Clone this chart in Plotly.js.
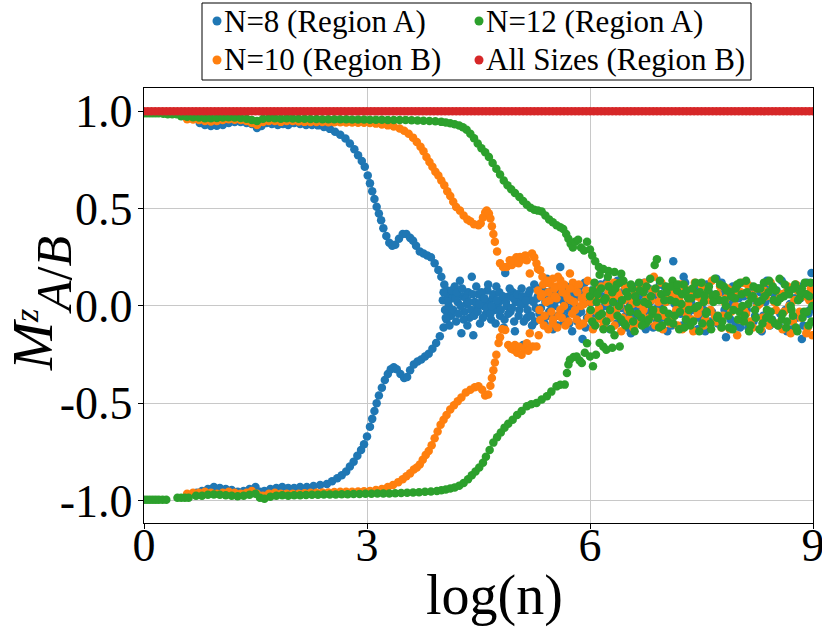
<!DOCTYPE html>
<html>
<head>
<meta charset="utf-8">
<script src="https://cdn.plot.ly/plotly-3.0.1.min.js"></script>
<style>html,body{margin:0;padding:0;background:#fff;}#chart{width:822px;height:629px;}</style>
</head>
<body>
<div id="chart"></div>
<script>
// ---- data (x = log(n), y = M^z_{A/B}) ----
const seriesNames = ["N=8 (Region A)", "N=10 (Region B)", "N=12 (Region A)", "All Sizes (Region B)"];
const xTickVals = [0, 3, 6, 9];
const xTickText = ["0", "3", "6", "9"];
const yTickVals = [-1, -0.5, 0, 0.5, 1];
const yTickText = ["-1.0", "-0.5", "0.0", "0.5", "1.0"];

const blueUpper = [[0.75,0.94],[0.82,0.93],[0.9,0.925],[0.98,0.926],[1.06,0.93],[1.14,0.94],[1.22,0.945],[1.3,0.945],[1.38,0.94],[1.45,0.935],[1.52,0.915],[1.58,0.925],[1.65,0.94],[1.72,0.935],[1.8,0.93],[1.87,0.935],[1.94,0.93],[2.02,0.94],[2.1,0.935],[2.18,0.93],[2.26,0.93],[2.34,0.928],[2.42,0.92],[2.5,0.91],[2.57,0.895],[2.64,0.88],[2.71,0.86],[2.77,0.835],[2.83,0.805],[2.88,0.775],[2.93,0.745],[2.97,0.715],[3.01,0.67],[3.04,0.63],[3.07,0.59],[3.1,0.55],[3.13,0.51],[3.16,0.475],[3.19,0.44],[3.22,0.4],[3.26,0.36],[3.3,0.325],[3.34,0.31],[3.38,0.315],[3.43,0.345],[3.48,0.37],[3.53,0.37],[3.58,0.35],[3.62,0.335],[3.66,0.31],[3.71,0.28],[3.76,0.27],[3.81,0.26],[3.86,0.25],[3.91,0.22],[3.96,0.185],[4.0,0.15],[4.04,0.11],[4.08,0.08],[4.12,0.05]];
const blueLower = [[0.71,-0.96],[0.78,-0.95],[0.86,-0.94],[0.94,-0.93],[1.02,-0.935],[1.1,-0.94],[1.18,-0.945],[1.26,-0.955],[1.34,-0.95],[1.42,-0.94],[1.5,-0.93],[1.56,-0.955],[1.62,-0.95],[1.7,-0.94],[1.78,-0.935],[1.86,-0.93],[1.94,-0.935],[2.02,-0.935],[2.1,-0.93],[2.19,-0.93],[2.28,-0.925],[2.37,-0.92],[2.46,-0.915],[2.53,-0.9],[2.6,-0.885],[2.66,-0.87],[2.72,-0.85],[2.77,-0.825],[2.82,-0.8],[2.87,-0.77],[2.92,-0.74],[2.96,-0.71],[3.0,-0.67],[3.04,-0.62],[3.07,-0.58],[3.1,-0.54],[3.13,-0.5],[3.16,-0.46],[3.2,-0.42],[3.24,-0.38],[3.28,-0.35],[3.32,-0.325],[3.36,-0.315],[3.4,-0.325],[3.45,-0.35],[3.5,-0.37],[3.54,-0.365],[3.58,-0.33],[3.63,-0.3],[3.68,-0.285],[3.73,-0.275],[3.78,-0.26],[3.83,-0.245],[3.88,-0.22],[3.93,-0.19],[3.98,-0.155],[4.03,-0.11],[4.07,-0.07],[4.12,-0.035]];
const blueCloud = [[4.02,0.03],[4.05,-0.02],[4.08,0.06],[4.1,0.0],[4.13,-0.05],[4.15,0.04],[4.18,0.1],[4.2,-0.08],[4.22,0.02],[4.25,0.13],[4.27,-0.14],[4.29,0.05],[4.31,-0.03],[4.34,0.01],[4.36,0.07],[4.38,-0.06],[4.41,0.15],[4.43,-0.15],[4.45,0.02],[4.48,-0.01],[4.5,0.06],[4.52,-0.09],[4.55,0.03],[4.57,0.0],[4.6,-0.04],[4.62,0.08],[4.64,0.02],[4.67,-0.07],[4.69,0.04],[4.72,-0.02],[4.74,0.1],[4.76,0.01],[4.79,-0.05],[4.81,0.03],[4.84,-0.11],[4.86,0.17],[4.88,0.0],[4.91,0.05],[4.93,-0.03],[4.96,0.07],[4.98,-0.08],[5.0,0.02],[5.03,0.04],[5.05,-0.02],[5.08,0.09],[5.1,-0.2],[5.12,0.01],[5.15,-0.06],[5.17,0.06],[5.2,0.03],[5.22,-0.1],[5.25,0.11],[5.27,-0.01],[5.3,0.05],[5.32,-0.04],[5.35,0.08],[5.37,-0.07],[5.4,0.02],[5.42,0.14],[5.45,-0.03],[5.47,0.04],[5.5,-0.12],[5.52,0.0],[5.55,0.07],[5.57,-0.05],[5.6,0.2],[5.63,0.03],[5.65,-0.08],[5.68,0.1],[5.7,-0.02],[5.73,0.05],[5.76,-0.13],[5.78,0.01],[5.81,0.09],[5.84,-0.04],[5.87,0.06],[5.9,-0.17],[5.93,0.12],[5.96,-0.06],[5.99,0.02],[6.02,0.08],[6.05,-0.1],[6.08,0.04],[6.11,-0.03],[6.14,0.11],[6.17,-0.07],[6.2,0.0],[6.24,0.06],[6.27,-0.12],[6.3,0.09],[6.34,-0.02],[6.37,0.13],[6.41,-0.08],[6.44,0.03],[6.48,-0.05],[6.51,0.1],[6.55,-0.14],[6.58,0.05],[6.62,-0.01],[6.66,0.08],[6.69,-0.09],[6.73,0.12],[6.77,-0.04],[6.81,0.02],[6.85,-0.11],[6.88,0.07],[6.92,0.0],[6.96,-0.06],[7.0,0.1],[7.04,-0.13],[7.08,0.04],[7.12,0.23],[7.16,-0.03],[7.2,0.06],[7.24,-0.1],[7.28,0.12],[7.32,-0.05],[7.36,0.02],[7.41,0.09],[7.45,-0.12],[7.49,0.05],[7.53,-0.02],[7.57,0.11],[7.62,-0.08],[7.66,0.03],[7.7,0.14],[7.74,-0.06],[7.79,0.07],[7.83,-0.16],[7.87,0.01],[7.92,0.1],[7.96,-0.09],[8.0,0.04],[8.05,-0.03],[8.09,0.12],[8.13,-0.11],[8.18,0.06],[8.22,-0.05],[8.27,0.09],[8.31,-0.13],[8.36,0.02],[8.4,0.11],[8.45,-0.07],[8.49,0.05],[8.54,-0.1],[8.58,0.13],[8.63,-0.02],[8.67,0.08],[8.72,-0.12],[8.76,0.04],[8.81,0.1],[8.85,-0.17],[8.9,0.06],[8.94,-0.04],[8.98,0.17]];
const blueCloud2 = [[4.03,0.07],[4.06,-0.06],[4.09,0.02],[4.11,-0.1],[4.14,0.08],[4.16,-0.02],[4.19,0.04],[4.21,0.07],[4.23,-0.04],[4.26,0.0],[4.28,0.09],[4.3,-0.07],[4.33,0.04],[4.35,-0.1],[4.37,0.02],[4.4,-0.02],[4.42,0.06],[4.44,-0.05],[4.47,0.1],[4.49,-0.03],[4.51,0.01],[4.54,0.07],[4.56,-0.06],[4.58,0.04],[4.61,-0.01],[4.63,0.11],[4.66,-0.04],[4.68,0.0],[4.7,0.06],[4.73,-0.09],[4.75,0.03],[4.78,0.07],[4.8,-0.02],[4.83,0.05],[4.85,-0.07],[4.87,0.02],[4.9,-0.04],[4.92,0.09],[4.95,-0.01],[4.97,0.04],[4.99,-0.13],[5.02,0.06],[5.04,-0.05],[5.07,0.01],[5.09,0.05],[5.11,-0.08],[5.14,0.03],[5.16,-0.02],[5.19,0.08],[5.21,-0.05],[5.24,0.02],[5.26,-0.08],[5.29,0.04],[5.31,0.09],[5.34,-0.01],[5.36,0.05],[5.39,-0.09],[5.41,0.07],[5.44,-0.05],[5.46,0.01],[5.49,0.08],[5.51,-0.06],[5.54,0.03],[5.56,-0.1],[5.59,0.05],[5.62,-0.03],[5.64,0.09],[5.67,-0.06],[5.69,0.02],[5.72,-0.09],[5.75,0.07],[5.77,-0.01],[5.8,0.04],[5.83,-0.08],[5.86,0.1],[5.88,-0.03],[5.91,0.05],[5.94,-0.11],[5.97,0.07],[6.0,-0.04],[6.03,0.02],[6.07,-0.06],[6.1,0.09],[6.13,-0.02],[6.16,0.05],[6.19,-0.09],[6.22,0.12],[6.26,0.02],[6.29,-0.05],[6.32,0.06],[6.36,-0.09],[6.39,0.04],[6.43,-0.01],[6.46,0.08],[6.5,-0.11],[6.53,0.02],[6.57,0.1],[6.6,-0.06],[6.64,0.04],[6.68,-0.03],[6.71,0.06],[6.75,-0.12],[6.79,0.09],[6.83,-0.02],[6.87,0.04],[6.9,-0.08],[6.94,0.11],[6.98,0.02],[7.02,-0.06],[7.06,0.08],[7.1,-0.1],[7.14,0.01],[7.18,0.07],[7.22,-0.04],[7.26,0.15],[7.3,-0.08],[7.34,0.05],[7.38,-0.02],[7.43,0.1],[7.47,-0.06],[7.51,0.03],[7.55,-0.13],[7.6,0.07],[7.64,-0.03],[7.68,0.05],[7.72,-0.09],[7.77,0.12],[7.81,-0.02],[7.85,0.06],[7.89,-0.07],[7.94,0.03],[7.98,0.09],[8.02,-0.11],[8.07,0.05],[8.11,-0.02],[8.16,0.1],[8.2,-0.08],[8.24,0.02],[8.29,0.07],[8.33,-0.05],[8.38,0.13],[8.42,-0.1],[8.47,0.03],[8.51,0.08],[8.56,-0.04],[8.6,0.06],[8.65,-0.13],[8.69,0.01],[8.74,0.09],[8.78,-0.06],[8.83,0.04],[8.87,-0.1],[8.92,0.12],[8.96,-0.02],[8.99,0.07]];

const orangeUpper = [[0.58,0.96],[0.66,0.958],[0.74,0.955],[0.82,0.95],[0.9,0.948],[0.98,0.95],[1.06,0.955],[1.14,0.96],[1.22,0.957],[1.3,0.955],[1.38,0.95],[1.45,0.94],[1.52,0.93],[1.6,0.945],[1.68,0.95],[1.76,0.95],[1.84,0.946],[1.92,0.95],[2.0,0.95],[2.08,0.948],[2.16,0.946],[2.24,0.945],[2.32,0.945],[2.4,0.945],[2.48,0.944],[2.56,0.944],[2.64,0.944],[2.72,0.943],[2.8,0.943],[2.88,0.942],[2.96,0.942],[3.04,0.94],[3.12,0.937],[3.2,0.933],[3.28,0.928],[3.36,0.922],[3.44,0.912],[3.5,0.9],[3.56,0.885],[3.62,0.865],[3.67,0.843],[3.72,0.818],[3.76,0.795],[3.8,0.765],[3.84,0.74],[3.88,0.715],[3.92,0.69],[3.96,0.67],[4.0,0.645],[4.04,0.62],[4.08,0.59],[4.12,0.565],[4.16,0.535],[4.2,0.508],[4.25,0.49],[4.3,0.465],[4.35,0.445],[4.39,0.435],[4.44,0.42],[4.5,0.415],[4.53,0.425],[4.56,0.455],[4.59,0.48],[4.61,0.49],[4.64,0.475],[4.66,0.45],[4.68,0.41],[4.7,0.37],[4.72,0.33],[4.75,0.28]];
const orangeLower = [[0.58,-0.965],[0.66,-0.96],[0.74,-0.96],[0.82,-0.955],[0.9,-0.96],[0.98,-0.965],[1.06,-0.96],[1.14,-0.955],[1.22,-0.96],[1.3,-0.965],[1.38,-0.96],[1.45,-0.95],[1.52,-0.965],[1.6,-0.975],[1.68,-0.965],[1.76,-0.96],[1.84,-0.965],[1.92,-0.965],[2.0,-0.965],[2.08,-0.965],[2.16,-0.962],[2.24,-0.96],[2.32,-0.96],[2.4,-0.958],[2.48,-0.958],[2.56,-0.956],[2.64,-0.955],[2.72,-0.955],[2.8,-0.954],[2.88,-0.953],[2.96,-0.952],[3.04,-0.95],[3.12,-0.945],[3.2,-0.94],[3.28,-0.93],[3.35,-0.92],[3.42,-0.905],[3.48,-0.89],[3.53,-0.875],[3.58,-0.86],[3.63,-0.84],[3.67,-0.83],[3.71,-0.815],[3.75,-0.79],[3.79,-0.765],[3.83,-0.745],[3.87,-0.715],[3.91,-0.68],[3.95,-0.645],[3.99,-0.61],[4.03,-0.585],[4.07,-0.56],[4.12,-0.532],[4.17,-0.51],[4.22,-0.49],[4.27,-0.47],[4.33,-0.445],[4.39,-0.43],[4.45,-0.418],[4.5,-0.413],[4.55,-0.43],[4.59,-0.46],[4.63,-0.455],[4.66,-0.41],[4.68,-0.37],[4.7,-0.33],[4.72,-0.29],[4.74,-0.25],[4.77,-0.19]];
const orangeCloud = [[4.79,0.22],[4.83,0.2],[4.88,0.2],[4.92,0.235],[4.95,0.21],[4.97,0.235],[5.01,0.25],[5.04,0.22],[5.06,0.252],[5.1,0.24],[5.13,0.26],[5.15,0.235],[5.19,0.167],[5.22,0.27],[5.25,0.25],[5.28,0.218],[5.3,0.19],[5.33,0.184],[5.36,0.15],[5.4,0.12],[5.46,0.116],[5.5,0.14],[5.55,0.1],[5.6,0.133],[5.65,0.11],[5.73,0.167],[5.78,0.09],
[4.79,-0.16],[4.82,-0.12],[4.86,-0.123],[4.9,-0.2],[4.94,-0.22],[4.97,-0.225],[4.99,-0.2],[5.02,-0.24],[5.05,-0.21],[5.08,-0.25],[5.12,-0.22],[5.15,-0.191],[5.17,-0.23],[5.19,-0.14],[5.23,-0.208],[5.28,-0.208],[5.31,-0.15],[5.33,-0.072],[5.38,-0.1],[5.44,-0.12],[5.5,-0.09],[5.56,-0.11],[5.62,-0.06],
[5.3,0.08],[5.34,0.05],[5.37,0.11],[5.41,0.02],[5.44,0.07],[5.48,-0.03],[5.52,0.09],[5.55,0.04],[5.58,-0.05],[5.62,0.1],[5.65,0.0],[5.68,0.06],[5.71,-0.08],[5.74,0.03],[5.77,0.12],[5.8,-0.02],[5.83,0.07],[5.86,-0.1],[5.89,0.04],[5.92,0.01],[5.95,0.08],[5.98,-0.06],[6.01,0.02],[6.04,-0.12],[6.07,0.06],[6.1,-0.03],[6.13,0.09],[6.16,-0.07],[6.2,0.03],[6.23,0.11],[6.26,-0.04],[6.3,0.05],[6.33,-0.1],[6.37,0.07],[6.4,0.0],[6.44,-0.06],[6.47,0.1],[6.51,-0.02],[6.55,0.04],[6.58,-0.11],[6.62,0.08],[6.66,0.01],[6.7,-0.05],[6.74,0.12],[6.78,-0.08],[6.82,0.03],[6.86,0.15],[6.9,-0.03],[6.94,0.06],[6.98,-0.12],[7.02,0.02],[7.06,0.09],[7.1,-0.06],[7.14,0.04],[7.18,-0.1],[7.22,0.11],[7.26,0.0],[7.3,-0.04],[7.34,0.07],[7.39,-0.13],[7.43,0.05],[7.47,-0.01],[7.51,0.1],[7.55,-0.07],[7.6,0.03],[7.64,0.13],[7.68,-0.05],[7.72,0.06],[7.77,-0.11],[7.81,0.02],[7.85,0.09],[7.9,-0.03],[7.94,0.05],[7.98,-0.15],[8.03,0.07],[8.07,-0.02],[8.12,0.11],[8.16,-0.08],[8.21,0.04],[8.25,0.0],[8.3,-0.12],[8.34,0.08],[8.39,-0.05],[8.43,0.12],[8.48,0.02],[8.52,-0.09],[8.57,0.06],[8.61,-0.03],[8.66,0.1],[8.7,-0.14],[8.75,0.03],[8.79,0.08],[8.84,-0.06],[8.88,0.05],[8.93,-0.11],[8.97,0.09],[8.99,-0.15]];
const orangeCloud2 = [[5.32,-0.02],[5.36,0.06],[5.39,-0.05],[5.43,0.13],[5.46,0.03],[5.5,-0.07],[5.53,0.05],[5.57,0.15],[5.6,-0.02],[5.63,0.07],[5.67,-0.1],[5.7,0.04],[5.73,0.09],[5.76,-0.04],[5.79,0.02],[5.82,-0.07],[5.85,0.11],[5.88,0.0],[5.91,-0.09],[5.94,0.05],[5.97,0.13],[6.0,-0.03],[6.03,0.07],[6.06,-0.08],[6.09,0.04],[6.12,-0.01],[6.15,0.1],[6.18,-0.1],[6.22,0.02],[6.25,0.07],[6.28,-0.06],[6.32,0.12],[6.35,-0.02],[6.39,0.05],[6.42,-0.13],[6.46,0.03],[6.49,0.09],[6.53,-0.07],[6.57,0.01],[6.6,0.06],[6.64,-0.09],[6.68,0.11],[6.72,-0.02],[6.76,0.04],[6.8,-0.06],[6.84,0.08],[6.88,-0.1],[6.92,0.02],[6.96,0.12],[7.0,-0.05],[7.04,0.05],[7.08,-0.09],[7.12,0.07],[7.16,-0.02],[7.2,0.03],[7.24,-0.12],[7.28,0.09],[7.32,0.01],[7.37,-0.07],[7.41,0.12],[7.45,-0.04],[7.49,0.04],[7.53,-0.1],[7.58,0.07],[7.62,-0.02],[7.66,0.05],[7.7,-0.08],[7.75,0.1],[7.79,-0.05],[7.83,0.04],[7.88,-0.12],[7.92,0.08],[7.96,0.0],[8.01,-0.07],[8.05,0.12],[8.1,-0.04],[8.14,0.06],[8.19,-0.11],[8.23,0.09],[8.28,0.01],[8.32,-0.06],[8.37,0.05],[8.41,-0.1],[8.46,0.09],[8.5,-0.02],[8.55,0.04],[8.59,-0.12],[8.64,0.07],[8.68,0.0],[8.73,-0.08],[8.77,0.11],[8.82,-0.03],[8.86,0.06],[8.91,-0.14],[8.95,0.03],[8.98,0.08]];

const greenUpper = [[0.0,0.99],[0.04,0.99],[0.08,0.99],[0.12,0.99],[0.16,0.99],[0.2,0.99],[0.26,0.988],[0.32,0.985],[0.38,0.985],[0.44,0.985],[0.5,0.975],[0.58,0.972],[0.66,0.97],[0.74,0.968],[0.82,0.965],[0.9,0.965],[0.98,0.966],[1.06,0.968],[1.14,0.97],[1.22,0.968],[1.3,0.966],[1.38,0.962],[1.45,0.955],[1.52,0.95],[1.6,0.962],[1.68,0.966],[1.76,0.965],[1.84,0.962],[1.92,0.964],[2.0,0.963],[2.08,0.962],[2.16,0.962],[2.24,0.961],[2.32,0.961],[2.4,0.96],[2.48,0.96],[2.56,0.96],[2.64,0.959],[2.72,0.959],[2.8,0.958],[2.88,0.958],[2.96,0.958],[3.04,0.957],[3.12,0.957],[3.2,0.957],[3.28,0.956],[3.36,0.956],[3.44,0.955],[3.52,0.955],[3.6,0.954],[3.68,0.953],[3.76,0.952],[3.84,0.951],[3.92,0.949],[4.0,0.946],[4.06,0.943],[4.12,0.939],[4.18,0.934],[4.24,0.927],[4.29,0.918],[4.34,0.905],[4.39,0.885],[4.44,0.862],[4.49,0.835],[4.54,0.81],[4.59,0.79],[4.64,0.765],[4.69,0.735],[4.74,0.705],[4.79,0.675],[4.84,0.645],[4.89,0.62],[4.94,0.6],[4.99,0.58],[5.05,0.56],[5.1,0.54],[5.15,0.52],[5.2,0.505],[5.25,0.495],[5.3,0.49],[5.35,0.485],[5.4,0.465],[5.45,0.445],[5.5,0.43],[5.55,0.415],[5.6,0.405],[5.64,0.395],[5.68,0.37],[5.71,0.345],[5.74,0.32],[5.77,0.3],[5.8,0.33],[5.84,0.34],[5.88,0.3],[5.92,0.285],[5.96,0.33],[6.0,0.29],[6.03,0.26],[6.07,0.23],[6.12,0.2],[6.18,0.19],[6.25,0.18],[6.33,0.175],[6.42,0.165]];
const greenLower = [[0.0,-0.995],[0.04,-0.995],[0.08,-0.995],[0.12,-0.995],[0.16,-0.995],[0.2,-0.995],[0.25,-0.995],[0.3,-0.995],[0.45,-0.985],[0.5,-0.985],[0.55,-0.985],[0.6,-0.985],[0.7,-0.975],[0.78,-0.975],[0.86,-0.97],[0.94,-0.968],[1.02,-0.97],[1.1,-0.972],[1.18,-0.975],[1.26,-0.978],[1.34,-0.975],[1.42,-0.97],[1.5,-0.965],[1.56,-0.985],[1.62,-0.99],[1.7,-0.98],[1.78,-0.975],[1.86,-0.972],[1.94,-0.975],[2.02,-0.973],[2.1,-0.972],[2.18,-0.971],[2.26,-0.97],[2.34,-0.97],[2.42,-0.969],[2.5,-0.968],[2.58,-0.968],[2.66,-0.967],[2.74,-0.967],[2.82,-0.966],[2.9,-0.966],[2.98,-0.965],[3.06,-0.965],[3.14,-0.964],[3.22,-0.964],[3.3,-0.963],[3.38,-0.962],[3.46,-0.961],[3.54,-0.96],[3.62,-0.958],[3.7,-0.957],[3.78,-0.955],[3.86,-0.953],[3.94,-0.95],[4.0,-0.947],[4.06,-0.943],[4.12,-0.938],[4.18,-0.932],[4.24,-0.924],[4.3,-0.91],[4.36,-0.89],[4.41,-0.87],[4.46,-0.85],[4.51,-0.83],[4.56,-0.805],[4.6,-0.775],[4.65,-0.74],[4.7,-0.702],[4.75,-0.675],[4.8,-0.65],[4.85,-0.625],[4.9,-0.605],[4.96,-0.585],[5.02,-0.56],[5.08,-0.54],[5.15,-0.515],[5.21,-0.505],[5.28,-0.498],[5.35,-0.48],[5.42,-0.464],[5.48,-0.44],[5.55,-0.413],[5.6,-0.405],[5.66,-0.404],[5.69,-0.344],[5.71,-0.3],[5.73,-0.276],[5.78,-0.262],[5.82,-0.259],[5.86,-0.28],[5.89,-0.293],[5.93,-0.24],[5.96,-0.191],[6.0,-0.26],[6.04,-0.31],[6.08,-0.25],[6.13,-0.19],[6.18,-0.21],[6.22,-0.225],[6.3,-0.215],[6.4,-0.208]];
const greenCloud = [[6.0,0.05],[6.03,-0.08],[6.06,0.12],[6.09,0.02],[6.12,-0.05],[6.15,0.09],[6.18,-0.12],[6.21,0.04],[6.24,0.15],[6.27,-0.02],[6.3,0.07],[6.33,-0.15],[6.36,0.11],[6.39,0.0],[6.42,-0.07],[6.45,0.13],[6.48,-0.1],[6.51,0.05],[6.54,-0.03],[6.57,0.09],[6.6,-0.13],[6.63,0.02],[6.66,0.12],[6.69,-0.06],[6.72,0.07],[6.75,-0.09],[6.78,0.01],[6.81,0.14],[6.84,-0.04],[6.87,0.21],[6.9,0.24],[6.93,-0.11],[6.96,0.06],[6.99,-0.02],[7.02,0.1],[7.05,-0.08],[7.08,0.03],[7.11,0.13],[7.14,-0.05],[7.17,0.08],[7.2,-0.12],[7.23,0.01],[7.26,0.11],[7.29,-0.07],[7.32,0.04],[7.35,-0.1],[7.38,0.09],[7.41,-0.01],[7.44,0.06],[7.47,-0.13],[7.5,0.12],[7.53,0.02],[7.56,-0.04],[7.59,0.08],[7.62,-0.09],[7.65,0.05],[7.68,0.14],[7.71,-0.06],[7.74,0.03],[7.77,-0.11],[7.8,0.1],[7.83,0.0],[7.86,-0.05],[7.89,0.07],[7.92,-0.12],[7.95,0.04],[7.98,0.11],[8.01,-0.03],[8.04,0.06],[8.07,-0.08],[8.1,0.13],[8.13,0.01],[8.16,-0.1],[8.19,0.05],[8.22,-0.02],[8.25,0.09],[8.28,-0.12],[8.31,0.03],[8.34,0.12],[8.37,-0.06],[8.4,0.07],[8.43,-0.03],[8.46,0.1],[8.49,-0.09],[8.52,0.02],[8.55,0.14],[8.58,-0.07],[8.61,0.05],[8.64,-0.11],[8.67,0.08],[8.7,0.0],[8.73,-0.05],[8.76,0.11],[8.79,-0.13],[8.82,0.04],[8.85,0.09],[8.88,-0.03],[8.91,0.06],[8.94,-0.1],[8.97,0.12],[8.99,0.0]];
const greenCloud2 = [[6.01,-0.02],[6.04,0.08],[6.07,-0.1],[6.1,0.06],[6.13,0.16],[6.16,-0.04],[6.19,0.03],[6.22,-0.08],[6.25,0.1],[6.28,-0.12],[6.31,0.02],[6.34,0.09],[6.37,-0.05],[6.4,0.12],[6.43,0.03],[6.46,-0.09],[6.49,0.07],[6.52,-0.01],[6.55,0.11],[6.58,-0.08],[6.61,0.05],[6.64,-0.04],[6.67,0.08],[6.7,-0.1],[6.73,0.02],[6.76,0.1],[6.79,-0.07],[6.82,0.05],[6.85,-0.02],[6.88,0.09],[6.91,-0.06],[6.94,0.13],[6.97,-0.1],[7.0,0.03],[7.03,0.07],[7.06,-0.04],[7.09,0.1],[7.12,-0.09],[7.15,0.02],[7.18,0.11],[7.21,-0.03],[7.24,0.06],[7.27,-0.11],[7.3,0.08],[7.33,-0.02],[7.36,0.04],[7.39,-0.08],[7.42,0.12],[7.45,0.0],[7.48,0.07],[7.51,-0.09],[7.54,0.05],[7.57,-0.03],[7.6,0.1],[7.63,-0.12],[7.66,0.02],[7.69,0.06],[7.72,-0.05],[7.75,0.11],[7.78,-0.08],[7.81,0.03],[7.84,0.08],[7.87,-0.11],[7.9,0.05],[7.93,-0.02],[7.96,0.09],[7.99,-0.07],[8.02,0.12],[8.05,0.0],[8.08,-0.05],[8.11,0.07],[8.14,-0.13],[8.17,0.04],[8.2,0.1],[8.23,-0.06],[8.26,0.02],[8.29,0.09],[8.32,-0.09],[8.35,0.05],[8.38,-0.02],[8.41,0.13],[8.44,-0.07],[8.47,0.03],[8.5,0.08],[8.53,-0.1],[8.56,0.04],[8.59,-0.04],[8.62,0.11],[8.65,-0.08],[8.68,0.06],[8.71,-0.02],[8.74,0.09],[8.77,-0.11],[8.8,0.03],[8.83,0.07],[8.86,-0.06],[8.89,0.12],[8.92,-0.03],[8.95,0.05],[8.98,-0.08]];

const redX = [0,0.05,0.1,0.15,0.2,0.25,0.3,0.35,0.4,0.45,0.5,0.55,0.6,0.65,0.7,0.75,0.8,0.85,0.9,0.95,
1.0,1.05,1.1,1.15,1.2,1.25,1.3,1.35,1.4,1.45,1.5,1.55,1.6,1.65,1.7,1.75,1.8,1.85,1.9,1.95,
2.0,2.05,2.1,2.15,2.2,2.25,2.3,2.35,2.4,2.45,2.5,2.55,2.6,2.65,2.7,2.75,2.8,2.85,2.9,2.95,
3.0,3.05,3.1,3.15,3.2,3.25,3.3,3.35,3.4,3.45,3.5,3.55,3.6,3.65,3.7,3.75,3.8,3.85,3.9,3.95,
4.0,4.05,4.1,4.15,4.2,4.25,4.3,4.35,4.4,4.45,4.5,4.55,4.6,4.65,4.7,4.75,4.8,4.85,4.9,4.95,
5.0,5.05,5.1,5.15,5.2,5.25,5.3,5.35,5.4,5.45,5.5,5.55,5.6,5.65,5.7,5.75,5.8,5.85,5.9,5.95,
6.0,6.05,6.1,6.15,6.2,6.25,6.3,6.35,6.4,6.45,6.5,6.55,6.6,6.65,6.7,6.75,6.8,6.85,6.9,6.95,
7.0,7.05,7.1,7.15,7.2,7.25,7.3,7.35,7.4,7.45,7.5,7.55,7.6,7.65,7.7,7.75,7.8,7.85,7.9,7.95,
8.0,8.05,8.1,8.15,8.2,8.25,8.3,8.35,8.4,8.45,8.5,8.55,8.6,8.65,8.7,8.75,8.8,8.85,8.9,8.95,9.0];
const redY = [1,1,1,1,1,1,1,1,1,1,1,1,1,1,1,1,1,1,1,1,
1,1,1,1,1,1,1,1,1,1,1,1,1,1,1,1,1,1,1,1,
1,1,1,1,1,1,1,1,1,1,1,1,1,1,1,1,1,1,1,1,
1,1,1,1,1,1,1,1,1,1,1,1,1,1,1,1,1,1,1,1,
1,1,1,1,1,1,1,1,1,1,1,1,1,1,1,1,1,1,1,1,
1,1,1,1,1,1,1,1,1,1,1,1,1,1,1,1,1,1,1,1,
1,1,1,1,1,1,1,1,1,1,1,1,1,1,1,1,1,1,1,1,
1,1,1,1,1,1,1,1,1,1,1,1,1,1,1,1,1,1,1,1,
1,1,1,1,1,1,1,1,1,1,1,1,1,1,1,1,1,1,1,1,1];

const colors = ["#1f77b4", "#ff7f0e", "#2ca02c", "#d62728"];

function pts(...groups) {
  const all = [].concat(...groups);
  return { x: all.map(p => p[0]), y: all.map(p => p[1]) };
}

const FONT = "Liberation Serif";
const b = pts(blueUpper, blueLower, blueCloud, blueCloud2);
const o = pts(orangeUpper, orangeLower, orangeCloud, orangeCloud2);
const g = pts(greenUpper, greenLower, greenCloud, greenCloud2);

function tr(d, i) {
  return { type: "scatter", mode: "markers", x: d.x, y: d.y, name: seriesNames[i], showlegend: false,
    marker: { color: colors[i], size: 8.5, line: { width: 0 } }, hoverinfo: "skip" };
}

const data = [ tr(b, 0), tr(o, 1), tr(g, 2), tr({ x: redX, y: redY }, 3) ];

const axisCommon = {
  showgrid: true, gridcolor: "#c8c8c8", gridwidth: 1, zeroline: false,
  showline: true, linecolor: "black", linewidth: 1.3, mirror: true,
  ticks: "outside", ticklen: 5, tickwidth: 1, tickcolor: "black",
  tickfont: { family: FONT, size: 46, color: "black" }, tickmode: "array",
  ticklabeloverflow: "allow"
};

// legend (matplotlib-style, 2 columns), filled row by row
const legendOrder = [0, 2, 1, 3];
const legCols = [{ dot: 217, text: 223 }, { dot: 479, text: 485 }];
const legRows = [21, 60];
const px2x = px => (px - 144) / 669;
const px2y = py => (523 - py) / 435;

const shapes = [
  { type: "rect", xref: "paper", yref: "paper", x0: px2x(202), x1: px2x(751), y0: px2y(80), y1: px2y(3),
    line: { color: "black", width: 1 }, fillcolor: "white", layer: "above" }
];
const annotations = [];
legendOrder.forEach((si, k) => {
  const c = legCols[k % 2], r = legRows[Math.floor(k / 2)];
  shapes.push({ type: "circle", xref: "paper", yref: "paper", xsizemode: "pixel", ysizemode: "pixel",
    xanchor: px2x(c.dot), yanchor: px2y(r), x0: -4.5, x1: 4.5, y0: -4.5, y1: 4.5,
    fillcolor: colors[si], line: { width: 0 } });
  annotations.push({ text: seriesNames[si], xref: "paper", yref: "paper", x: px2x(c.text), y: px2y(r),
    xanchor: "left", yanchor: "middle", showarrow: false, borderpad: 0,
    font: { family: FONT, size: 31, color: "black" } });
});

annotations.push(
  { text: "log(n)", xref: "paper", yref: "paper", x: px2x(494), y: px2y(595), xanchor: "center", yanchor: "middle",
    showarrow: false, font: { family: FONT, size: 56, color: "black" } },
  { text: "<i>M</i>", xref: "paper", yref: "paper", x: px2x(33), y: px2y(345), xanchor: "center", yanchor: "middle",
    textangle: -90, showarrow: false, font: { family: FONT, size: 58, color: "black" } },
  { text: "<i>A</i>/<i>B</i>", xref: "paper", yref: "paper", x: px2x(54), y: px2y(275), xanchor: "center", yanchor: "middle",
    textangle: -90, showarrow: false, font: { family: FONT, size: 50, color: "black" } },
  { text: "<i>z</i>", xref: "paper", yref: "paper", x: px2x(26), y: px2y(316), xanchor: "center", yanchor: "middle",
    textangle: -90, showarrow: false, font: { family: FONT, size: 34, color: "black" } }
);

const layout = {
  width: 822, height: 629,
  margin: { l: 144, r: 9, t: 88, b: 106, pad: 0 },
  paper_bgcolor: "white", plot_bgcolor: "white",
  font: { family: FONT, color: "black" },
  showlegend: false,
  xaxis: Object.assign({}, axisCommon, { range: [0, 9], tickvals: xTickVals, ticktext: xTickText, ticklabelstandoff: -24 }),
  yaxis: Object.assign({}, axisCommon, { range: [-1.115, 1.12], tickvals: yTickVals, ticktext: yTickText, ticklabelstandoff: -4 }),
  shapes: shapes,
  annotations: annotations
};

Plotly.newPlot("chart", data, layout, { staticPlot: true, displayModeBar: false });
</script>
</body>
</html>
